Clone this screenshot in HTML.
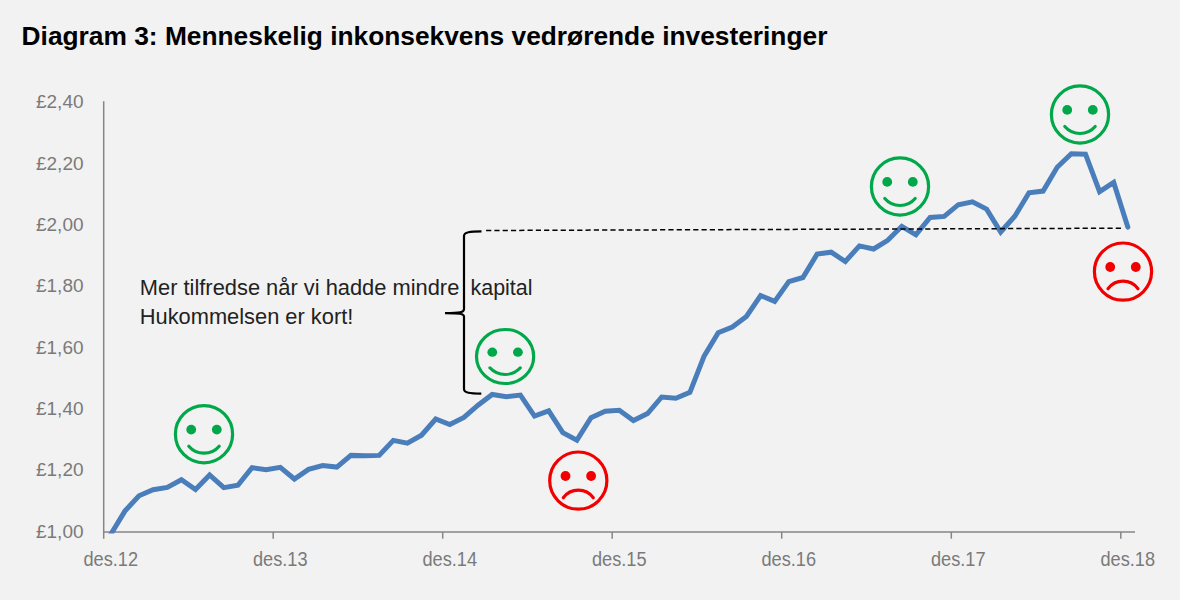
<!DOCTYPE html>
<html><head><meta charset="utf-8">
<style>
html,body{margin:0;padding:0;background:#f2f2f2;}
body{width:1180px;height:600px;overflow:hidden;position:relative;}
svg{position:absolute;left:0;top:0;}
text{font-family:"Liberation Sans",sans-serif;}
</style></head><body>
<svg width="1180" height="600" viewBox="0 0 1180 600">
<rect x="0" y="0" width="1180" height="600" fill="#f2f2f2"/>
<text x="21.6" y="44.5" font-size="25.7" font-weight="bold" fill="#000" textLength="805.8" lengthAdjust="spacingAndGlyphs">Diagram 3: Menneskelig inkonsekvens vedrørende investeringer</text>
<g fill="#7a7a7a" font-size="18">
<text x="83.5" y="108.4" text-anchor="end" textLength="47.5" lengthAdjust="spacingAndGlyphs">£2,40</text>
<text x="83.5" y="169.7" text-anchor="end" textLength="47.5" lengthAdjust="spacingAndGlyphs">£2,20</text>
<text x="83.5" y="231.1" text-anchor="end" textLength="47.5" lengthAdjust="spacingAndGlyphs">£2,00</text>
<text x="83.5" y="292.4" text-anchor="end" textLength="47.5" lengthAdjust="spacingAndGlyphs">£1,80</text>
<text x="83.5" y="353.8" text-anchor="end" textLength="47.5" lengthAdjust="spacingAndGlyphs">£1,60</text>
<text x="83.5" y="415.1" text-anchor="end" textLength="47.5" lengthAdjust="spacingAndGlyphs">£1,40</text>
<text x="83.5" y="476.4" text-anchor="end" textLength="47.5" lengthAdjust="spacingAndGlyphs">£1,20</text>
<text x="83.5" y="537.8" text-anchor="end" textLength="47.5" lengthAdjust="spacingAndGlyphs">£1,00</text>
<text x="110.8" y="565.8" font-size="19.6" text-anchor="middle" textLength="54.6" lengthAdjust="spacingAndGlyphs">des.12</text>
<text x="280.3" y="565.8" font-size="19.6" text-anchor="middle" textLength="54.6" lengthAdjust="spacingAndGlyphs">des.13</text>
<text x="449.8" y="565.8" font-size="19.6" text-anchor="middle" textLength="54.6" lengthAdjust="spacingAndGlyphs">des.14</text>
<text x="619.3" y="565.8" font-size="19.6" text-anchor="middle" textLength="54.6" lengthAdjust="spacingAndGlyphs">des.15</text>
<text x="788.8" y="565.8" font-size="19.6" text-anchor="middle" textLength="54.6" lengthAdjust="spacingAndGlyphs">des.16</text>
<text x="958.3" y="565.8" font-size="19.6" text-anchor="middle" textLength="54.6" lengthAdjust="spacingAndGlyphs">des.17</text>
<text x="1127.8" y="565.8" font-size="19.6" text-anchor="middle" textLength="54.6" lengthAdjust="spacingAndGlyphs">des.18</text>
</g>
<g stroke="#868686" stroke-width="1.5">
<line x1="103.7" y1="101.3" x2="103.7" y2="538.7"/>
<line x1="103" y1="532" x2="1135" y2="532"/>
<line x1="273.2" y1="532" x2="273.2" y2="538.7"/>
<line x1="442.7" y1="532" x2="442.7" y2="538.7"/>
<line x1="612.2" y1="532" x2="612.2" y2="538.7"/>
<line x1="781.7" y1="532" x2="781.7" y2="538.7"/>
<line x1="951.3" y1="532" x2="951.3" y2="538.7"/>
<line x1="1120.8" y1="532" x2="1120.8" y2="538.7"/>
</g>
<path d="M481.5,231.3 C470,231.5 464,232 464,236 L464,309 C464,312.6 460,313.1 445,313.1 C460,313.1 464,313.6 464,316.6 L464,389 C464,393 470,393.5 481.3,393.7" fill="none" stroke="#000" stroke-width="2.2"/>
<g fill="#222" font-size="21.5">
<text x="139.8" y="295.1" textLength="319.5" lengthAdjust="spacingAndGlyphs">Mer tilfredse når vi hadde mindre</text>
<text x="470.5" y="295.1" textLength="62" lengthAdjust="spacingAndGlyphs">kapital</text>
<text x="139.8" y="324" textLength="213.5" lengthAdjust="spacingAndGlyphs">Hukommelsen er kort!</text>
</g>
<clipPath id="pa"><rect x="103" y="90" width="1040" height="443.5"/></clipPath>
<polyline clip-path="url(#pa)" points="109.9,535.8 124.9,511.1 139.0,495.8 153.1,489.7 167.3,487.4 181.4,479.8 195.5,489.5 209.6,474.9 223.8,487.7 237.9,485.3 252.0,467.6 266.1,469.8 280.3,467.3 294.4,479.0 308.5,469.4 322.7,465.5 336.8,467.1 350.9,455.4 365.0,455.8 379.2,455.4 393.3,440.4 407.4,443.2 421.5,435.2 435.7,419.0 449.8,424.6 463.9,417.4 478.0,405.2 492.2,394.5 506.3,396.8 520.4,395.1 534.5,416.1 548.7,410.9 562.8,432.7 576.9,440.1 591.0,417.7 605.2,411.3 619.3,410.3 633.4,420.6 647.6,413.5 661.7,397.0 675.8,398.2 689.9,392.4 704.1,356.2 718.2,332.8 732.3,327.0 746.4,316.5 760.6,295.5 774.7,301.4 788.8,281.6 802.9,277.5 817.1,254.1 831.2,252.2 845.3,261.5 859.4,245.9 873.6,249.0 887.7,240.3 901.8,226.3 915.9,234.8 930.1,217.5 944.2,216.4 958.3,204.7 972.4,201.8 986.6,209.1 1000.7,232.0 1014.8,216.2 1029.0,192.8 1043.1,191.1 1057.2,167.3 1071.3,153.8 1085.5,154.2 1099.6,191.7 1113.7,182.5 1127.8,227.1" fill="none" stroke="#4a7ebb" stroke-width="5" stroke-linejoin="miter" stroke-linecap="round"/>
<line x1="486.1" y1="230.5" x2="1122" y2="228.2" stroke="#000" stroke-width="1.5" stroke-dasharray="5.2 3.085"/>
<g transform="translate(204,434.2) scale(1,1.0)">
<circle cx="0" cy="0" r="28.6" fill="none" stroke="#00a84a" stroke-width="3.2"/>
<circle cx="-12.8" cy="-4.6" r="4.9" fill="#00a84a"/>
<circle cx="12.8" cy="-4.6" r="4.9" fill="#00a84a"/>
<path d="M-15.2,12.0 A20 20 0 0 0 15.2,12.0" fill="none" stroke="#00a84a" stroke-width="3.2" stroke-linecap="round"/>
</g>
<g transform="translate(505.1,356.5) scale(1,0.945)">
<circle cx="0" cy="0" r="28.6" fill="none" stroke="#00a84a" stroke-width="3.2"/>
<circle cx="-12.8" cy="-4.6" r="4.9" fill="#00a84a"/>
<circle cx="12.8" cy="-4.6" r="4.9" fill="#00a84a"/>
<path d="M-15.2,12.0 A20 20 0 0 0 15.2,12.0" fill="none" stroke="#00a84a" stroke-width="3.2" stroke-linecap="round"/>
</g>
<g transform="translate(578.3,480.6) scale(1,1.0)">
<circle cx="0" cy="0" r="28.6" fill="none" stroke="#f20000" stroke-width="3.2"/>
<circle cx="-12.8" cy="-4.6" r="4.9" fill="#f20000"/>
<circle cx="12.8" cy="-4.6" r="4.9" fill="#f20000"/>
<path d="M-15,17.2 A18.6 18.6 0 0 1 15,17.2" fill="none" stroke="#f20000" stroke-width="3.2" stroke-linecap="round"/>
</g>
<g transform="translate(900,186.5) scale(1,1.0)">
<circle cx="0" cy="0" r="28.6" fill="none" stroke="#00a84a" stroke-width="3.2"/>
<circle cx="-12.8" cy="-4.6" r="4.9" fill="#00a84a"/>
<circle cx="12.8" cy="-4.6" r="4.9" fill="#00a84a"/>
<path d="M-15.2,12.0 A20 20 0 0 0 15.2,12.0" fill="none" stroke="#00a84a" stroke-width="3.2" stroke-linecap="round"/>
</g>
<g transform="translate(1080,114.5) scale(1,1.0)">
<circle cx="0" cy="0" r="28.6" fill="none" stroke="#00a84a" stroke-width="3.2"/>
<circle cx="-12.8" cy="-4.6" r="4.9" fill="#00a84a"/>
<circle cx="12.8" cy="-4.6" r="4.9" fill="#00a84a"/>
<path d="M-15.2,12.0 A20 20 0 0 0 15.2,12.0" fill="none" stroke="#00a84a" stroke-width="3.2" stroke-linecap="round"/>
</g>
<g transform="translate(1123,271.6) scale(1,1.0)">
<circle cx="0" cy="0" r="28.6" fill="none" stroke="#f20000" stroke-width="3.2"/>
<circle cx="-12.8" cy="-4.6" r="4.9" fill="#f20000"/>
<circle cx="12.8" cy="-4.6" r="4.9" fill="#f20000"/>
<path d="M-15,17.2 A18.6 18.6 0 0 1 15,17.2" fill="none" stroke="#f20000" stroke-width="3.2" stroke-linecap="round"/>
</g>
</svg>
</body></html>
